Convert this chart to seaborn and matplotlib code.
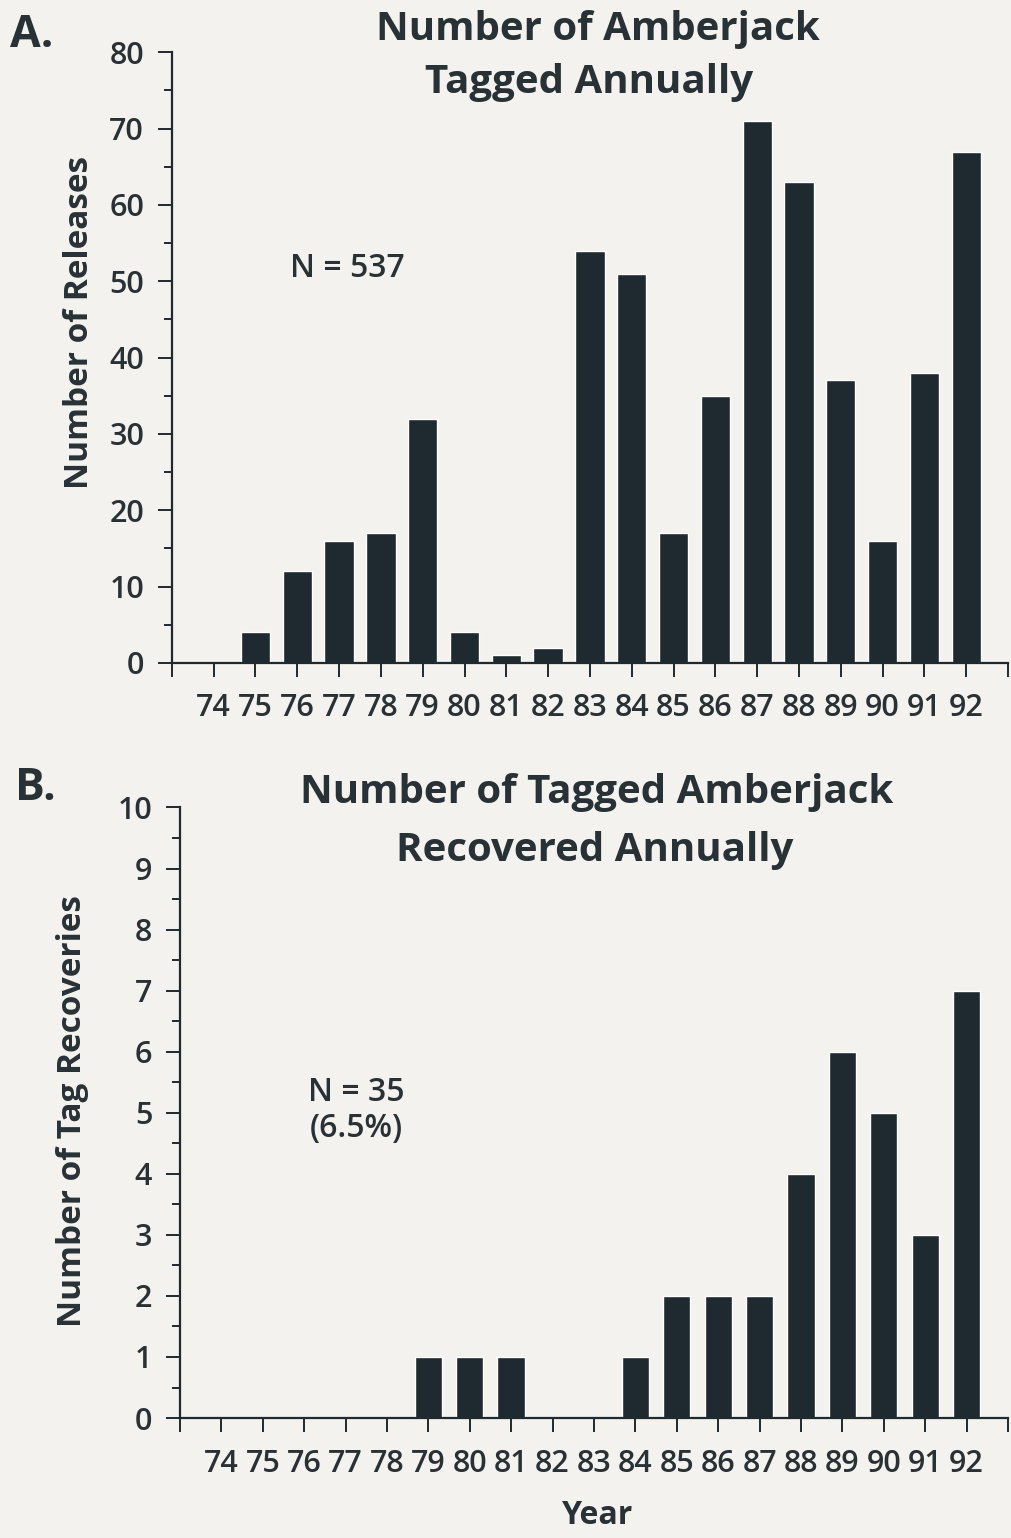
import matplotlib
matplotlib.use("Agg")
import matplotlib.pyplot as plt
import seaborn as sns
import pandas as pd
from matplotlib.ticker import MultipleLocator, FixedLocator

# data
years = list(range(74, 93))
releases = [0, 4, 12, 16, 17, 32, 4, 1, 2, 54, 51, 17, 35, 71, 63, 37, 16, 38, 67]
recoveries = [0, 0, 0, 0, 0, 1, 1, 1, 0, 0, 1, 2, 2, 2, 4, 6, 5, 3, 7]

title_a = ["Number of Amberjack", "Tagged Annually"]
title_b = ["Number of Tagged Amberjack", "Recovered Annually"]
note_a = "N = 537"
note_b = ["N = 35", "(6.5%)"]

BG = "#f3f2ee"
INK = "#1e2a30"
TXT = "#283135"

sns.set_style("ticks")
plt.rcParams["font.family"] = ["Open Sans", "DejaVu Sans"]
plt.rcParams["text.color"] = TXT
plt.rcParams["axes.labelcolor"] = TXT

df_a = pd.DataFrame({"year": years, "count": releases})
df_b = pd.DataFrame({"year": years, "count": recoveries})

fig = plt.figure(figsize=(10.11, 15.38), dpi=100, facecolor=BG)
ax_a = fig.add_axes([0.170, 0.569, 0.827, 0.397])
ax_b = fig.add_axes([0.178, 0.078, 0.819, 0.397])


def style_axis(ax, ymax, major, minor):
    ax.set_facecolor(BG)
    ax.set_xlim(73, 93)
    ax.set_ylim(0, ymax)
    ax.xaxis.set_major_locator(FixedLocator(range(73, 94)))
    ax.set_xticklabels([""] + [str(y) for y in years] + [""])
    ax.yaxis.set_major_locator(MultipleLocator(major))
    ax.yaxis.set_minor_locator(MultipleLocator(minor))
    for s in ["top", "right"]:
        ax.spines[s].set_visible(False)
    for s in ["left", "bottom"]:
        ax.spines[s].set_linewidth(1.6)
        ax.spines[s].set_color(INK)
    ax.tick_params(axis="both", which="major", direction="out", length=10,
                   width=1.4, labelsize=22, colors=INK, labelcolor=TXT)
    ax.tick_params(axis="y", which="minor", direction="out", length=6, width=1.4,
                   colors=INK)
    ax.tick_params(axis="x", pad=12)
    ax.tick_params(axis="y", pad=10)
    for lab in ax.get_xticklabels() + ax.get_yticklabels():
        lab.set_fontweight("semibold")


sns.barplot(data=df_a, x="year", y="count", native_scale=True, width=0.7,
            color=INK, saturation=1, ax=ax_a)
sns.barplot(data=df_b, x="year", y="count", native_scale=True, width=0.66,
            color=INK, saturation=1, ax=ax_b)

style_axis(ax_a, 80, 10, 5)
style_axis(ax_b, 10, 1, 0.5)

ax_a.set_xlabel("")
ax_a.set_ylabel("Number of Releases", fontsize=24, fontweight="bold")
ax_b.set_xlabel("Year", fontsize=23, fontweight="bold")
ax_b.set_ylabel("Number of Tag Recoveries", fontsize=24, fontweight="bold")
ax_a.yaxis.set_label_coords(-0.091, 0.558)
ax_b.yaxis.set_label_coords(-0.110, 0.502)
ax_b.xaxis.set_label_coords(0.504, -0.133)

# two-line titles, one text per line
for txt, x, y in zip(title_a, [0.591, 0.583], [0.9737, 0.9395]):
    fig.text(x, y, txt, ha="center", va="baseline", fontsize=29, fontweight="bold")
for txt, x, y in zip(title_b, [0.590, 0.588], [0.4779, 0.4402]):
    fig.text(x, y, txt, ha="center", va="baseline", fontsize=29, fontweight="bold")

fig.text(0.010, 0.9694, "A.", ha="left", va="baseline", fontsize=32, fontweight="bold")
fig.text(0.015, 0.4798, "B.", ha="left", va="baseline", fontsize=32, fontweight="bold")

ax_a.text(77.2, 51.7, note_a, ha="center", va="center", fontsize=23, fontweight="semibold")
for txt, y in zip(note_b, [5.33, 4.75]):
    ax_b.text(77.25, y, txt, ha="center", va="center", fontsize=23, fontweight="semibold")

fig.savefig("out.png", dpi=100, facecolor=BG)
